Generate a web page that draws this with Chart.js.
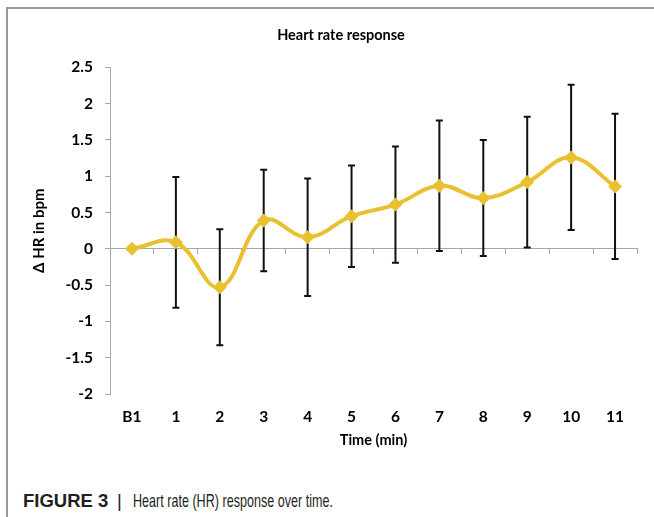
<!DOCTYPE html>
<html><head><meta charset="utf-8">
<script src="https://cdn.jsdelivr.net/npm/chart.js@4"></script>
<style>
html,body{margin:0;padding:0;width:654px;height:517px;overflow:hidden;background:#fff;}
#frame{position:absolute;left:6px;top:7px;width:660px;height:520px;border-top:2px solid #9a9a9a;border-left:2px solid #9a9a9a;}
#wrap{position:absolute;left:0;top:0;width:654px;height:470px;}
.cap{position:absolute;font-family:"Liberation Sans",Arial,sans-serif;font-size:18.5px;line-height:19px;color:#231f20;white-space:nowrap;top:491px;}
</style></head><body>
<div id="frame"></div>
<div id="wrap"><canvas id="c"></canvas></div>
<div class="cap" style="left:23px;font-weight:bold;">FIGURE 3</div>
<div class="cap" style="left:117px;">|</div>
<div class="cap" style="left:133px;transform:scaleX(0.68);transform-origin:0 0;">Heart rate (HR) response over time.</div>
<script>
const categories = ['B1','1','2','3','4','5','6','7','8','9','10','11'];
const hrChange = [0, 0.09, -0.53, 0.39, 0.16, 0.45, 0.61, 0.87, 0.70, 0.92, 1.26, 0.86];
const hrError = [0, 0.9, 0.8, 0.7, 0.81, 0.7, 0.8, 0.9, 0.8, 0.9, 1.0, 1.0];
const yMin = -2, yMax = 2.5, yStep = 0.5;

const lineColor = '#E8C030';
const axisColor = '#a6a6a6';
const fontFam = 'Lato, "Open Sans", sans-serif';

const errorBars = {
  id: 'errorBars',
  beforeDatasetsDraw(chart) {
    const {ctx, scales: {x, y}} = chart;
    ctx.save();
    ctx.strokeStyle = '#111';
    ctx.lineWidth = 2;
    hrChange.forEach((v, i) => {
      const e = hrError[i];
      if (!e) return;
      const px = x.getPixelForValue(i);
      const top = y.getPixelForValue(v + e);
      const bot = y.getPixelForValue(v - e);
      ctx.beginPath();
      ctx.moveTo(px, top); ctx.lineTo(px, bot);
      ctx.moveTo(px - 3.5, top); ctx.lineTo(px + 3.5, top);
      ctx.moveTo(px - 3.5, bot); ctx.lineTo(px + 3.5, bot);
      ctx.stroke();
    });
    ctx.restore();
  }
};

new Chart(document.getElementById('c'), {
  type: 'line',
  data: {
    labels: categories,
    datasets: [{
      data: hrChange,
      borderColor: lineColor,
      backgroundColor: lineColor,
      borderWidth: 4,
      tension: 0.4,
      pointStyle: 'rectRot',
      pointRadius: 7,
      pointBorderWidth: 0,
      pointBackgroundColor: lineColor,
      xAxisID: 'x',
      yAxisID: 'y',
      clip: false
    }]
  },
  options: {
    responsive: true,
    maintainAspectRatio: false,
    animation: false,
    layout: {padding: {left: 45, right: 17, top: 0, bottom: 0}},
    plugins: {
      legend: {display: false},
      tooltip: {enabled: false},
      title: {
        display: true, text: 'Heart rate response', color: '#000',
        font: {family: fontFam, weight: 'bold', size: 14.5},
        padding: {top: 27, bottom: 23}
      }
    },
    scales: {
      y: {
        min: yMin, max: yMax,
        ticks: {stepSize: yStep, color: '#000', font: {family: fontFam, weight: 'bold', size: 15.5}, padding: 12,
          callback: v => String(Math.round(v * 10) / 10)},
        grid: {drawOnChartArea: false, drawTicks: true, tickLength: 5, color: axisColor},
        border: {color: axisColor, width: 1},
        title: {display: true, text: 'Δ HR in bpm', color: '#000', font: {family: fontFam, weight: 'bold', size: 15}, padding: {top: -15, bottom: 15}},
        afterFit(s) { s.width = 65; }
      },
      x: {
        offset: true,
        grid: {display: false, drawTicks: false},
        border: {display: false},
        ticks: {color: '#000', font: {family: fontFam, weight: 'bold', size: 15.5}, padding: 14, maxRotation: 0, autoSkip: false},
        title: {display: true, text: 'Time (min)', color: '#000', font: {family: fontFam, weight: 'bold', size: 14.5}, padding: {top: 0, bottom: 21}},
        afterFit(s) { s.height = 76; }
      },
      x2: {
        type: 'category', labels: categories, position: {y: 0}, offset: true,
        grid: {offset: true, drawOnChartArea: false, drawTicks: true, tickLength: 5, color: axisColor},
        border: {color: axisColor, width: 1},
        ticks: {display: false}
      }
    }
  },
  plugins: [errorBars]
});
</script>
</body></html>
